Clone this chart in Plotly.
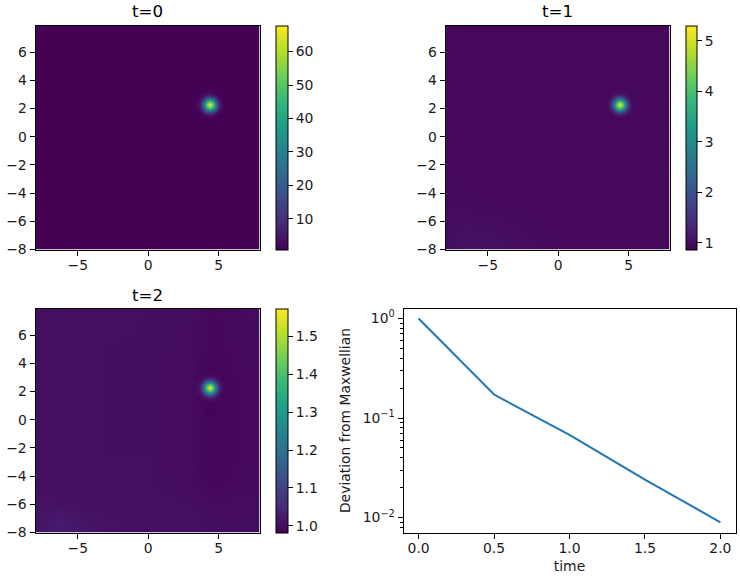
import plotly.graph_objects as go

W, H = 740, 580

# Background grids
bg_x = [-8.5, -6.5, -5, -3, 0, 3, 4.4, 6, 8.5]
bg_y = [-8.5, -7.2, -6, -4.5, -2, 1, 2.3, 5, 8.5]

bg_t0 = [[1.0] * 9 for _ in bg_y]

bg_t1 = [
    [0.99, 1.05, 1.04, 1.00, 0.96, 0.95, 0.95, 0.95, 0.95],
    [1.00, 1.07, 1.05, 1.01, 0.96, 0.95, 0.95, 0.95, 0.95],
    [1.00, 1.02, 1.01, 0.99, 0.95, 0.95, 0.95, 0.95, 0.95],
    [0.99, 0.97, 0.96, 0.95, 0.95, 0.95, 0.95, 0.95, 0.95],
    [0.96, 0.95, 0.95, 0.95, 0.95, 0.95, 0.95, 0.95, 0.95],
    [0.95, 0.95, 0.95, 0.95, 0.95, 0.95, 0.95, 0.95, 0.95],
    [0.95, 0.95, 0.95, 0.95, 0.95, 0.95, 0.95, 0.95, 0.95],
    [0.95, 0.95, 0.95, 0.95, 0.95, 0.95, 0.95, 0.95, 0.95],
    [0.95, 0.95, 0.95, 0.95, 0.95, 0.95, 0.95, 0.95, 0.95],
]

bg_t2 = [
    [1.008, 1.022, 1.016, 1.008, 1.006, 1.006, 1.002, 1.002, 1.002],
    [1.012, 1.026, 1.018, 1.010, 1.006, 1.006, 1.002, 1.002, 1.002],
    [1.010, 1.010, 1.008, 1.006, 1.006, 1.003, 1.000, 1.000, 1.000],
    [1.008, 1.006, 1.004, 1.004, 1.004, 1.000, 0.990, 0.994, 0.998],
    [1.006, 1.004, 1.004, 1.003, 1.003, 0.999, 0.990, 0.992, 0.996],
    [1.006, 1.004, 1.004, 1.003, 1.003, 0.999, 0.989, 0.992, 0.996],
    [1.006, 1.004, 1.004, 1.003, 1.003, 0.999, 0.989, 0.992, 0.996],
    [1.006, 1.005, 1.004, 1.003, 1.003, 1.000, 0.990, 0.994, 0.998],
    [1.006, 1.005, 1.004, 1.004, 1.003, 1.003, 0.992, 0.998, 1.002],
]

# Peak grids, one row per y
peak_x = [3.48, 3.70, 3.92, 4.14, 4.36, 4.58, 4.80, 5.02, 5.24]
peak_y = [1.41, 1.63, 1.85, 2.07, 2.29, 2.51, 2.73, 2.95, 3.17]

peak_t0 = [
    [1.0, 1.0, 1.4, 2.0, 2.3, 2.0, 1.4, 1.0, 1.0],
    [1.0, 1.7, 3.8, 7.0, 8.6, 7.0, 3.8, 1.7, 1.0],
    [1.4, 3.8, 10.8, 21.2, 26.7, 21.2, 10.8, 3.8, 1.4],
    [2.0, 7.0, 21.2, 42.4, 53.6, 42.4, 21.2, 7.0, 2.0],
    [2.3, 8.6, 26.7, 53.6, 67.8, 53.6, 26.7, 8.6, 2.3],
    [2.0, 7.0, 21.2, 42.4, 53.6, 42.4, 21.2, 7.0, 2.0],
    [1.4, 3.8, 10.8, 21.2, 26.7, 21.2, 10.8, 3.8, 1.4],
    [1.0, 1.7, 3.8, 7.0, 8.6, 7.0, 3.8, 1.7, 1.0],
    [1.0, 1.0, 1.4, 2.0, 2.3, 2.0, 1.4, 1.0, 1.0],
]

peak_t1 = [
    [0.95, 0.95, 0.97, 1.00, 1.03, 1.00, 0.97, 0.95, 0.95],
    [0.95, 0.99, 1.13, 1.33, 1.44, 1.33, 1.13, 0.99, 0.95],
    [0.97, 1.13, 1.58, 2.26, 2.62, 2.26, 1.58, 1.13, 0.97],
    [1.00, 1.33, 2.26, 3.64, 4.37, 3.64, 2.26, 1.33, 1.00],
    [1.03, 1.44, 2.62, 4.37, 5.30, 4.37, 2.62, 1.44, 1.03],
    [1.00, 1.33, 2.26, 3.64, 4.37, 3.64, 2.26, 1.33, 1.00],
    [0.97, 1.13, 1.58, 2.26, 2.62, 2.26, 1.58, 1.13, 0.97],
    [0.95, 0.99, 1.13, 1.33, 1.44, 1.33, 1.13, 0.99, 0.95],
    [0.95, 0.95, 0.97, 1.00, 1.03, 1.00, 0.97, 0.95, 0.95],
]

peak_t2 = [
    [0.990, 0.990, 0.995, 1.000, 1.003, 1.000, 0.995, 0.990, 0.990],
    [0.990, 0.998, 1.016, 1.044, 1.058, 1.044, 1.016, 0.998, 0.990],
    [0.995, 1.016, 1.077, 1.168, 1.215, 1.168, 1.077, 1.016, 0.995],
    [1.000, 1.044, 1.168, 1.353, 1.450, 1.353, 1.168, 1.044, 1.000],
    [1.003, 1.058, 1.215, 1.450, 1.574, 1.450, 1.215, 1.058, 1.003],
    [1.000, 1.044, 1.168, 1.353, 1.450, 1.353, 1.168, 1.044, 1.000],
    [0.995, 1.016, 1.077, 1.168, 1.215, 1.168, 1.077, 1.016, 0.995],
    [0.990, 0.998, 1.016, 1.044, 1.058, 1.044, 1.016, 0.998, 0.990],
    [0.990, 0.990, 0.995, 1.000, 1.003, 1.000, 0.995, 0.990, 0.990],
]

z_ranges = [(0.8, 67.8), (0.867, 5.30), (0.982, 1.574)]
cbar_ticks = [
    [10, 20, 30, 40, 50, 60],
    [1, 2, 3, 4, 5],
    [1.0, 1.1, 1.2, 1.3, 1.4, 1.5],
]
cbar_text = [
    ["10", "20", "30", "40", "50", "60"],
    ["1", "2", "3", "4", "5"],
    ["1.0", "1.1", "1.2", "1.3", "1.4", "1.5"],
]
panel_titles = ["t=0", "t=1", "t=2"]

# Deviation curve
time = [0.0, 0.5, 1.0, 1.5, 2.0]
deviation = [1.0, 0.172, 0.0677, 0.0241, 0.00897]

log_ticks = [1, 0.1, 0.01]
log_labels = ["10<sup>0</sup>", "10<sup>−1</sup>", "10<sup>−2</sup>"]
log_minor = [0.008, 0.009, 0.02, 0.03, 0.04, 0.05, 0.06, 0.07, 0.08, 0.09,
             0.2, 0.3, 0.4, 0.5, 0.6, 0.7, 0.8, 0.9]

FONT = "DejaVu Sans"
TICK_SIZE = 13.9
INK = "#000000"
TEXT = "#1a1a1a"

# Axes boxes in pixels: left, right, top, bottom
boxes = [
    (35.5, 259.5, 25.5, 249.5),
    (445.5, 669.5, 25.5, 249.5),
    (35.5, 259.5, 308.5, 532.5),
    (403.5, 735.5, 308.5, 532.5),
]
bars = [(275.5, 12), (685.5, 11), (275.5, 12)]


def xdom(b):
    return [b[0] / W, b[1] / W]


def ydom(b):
    return [1 - b[3] / H, 1 - b[2] / H]


fig = go.Figure()
bgs = [bg_t0, bg_t1, bg_t2]
peaks = [peak_t0, peak_t1, peak_t2]
for k in range(3):
    ax = "" if k == 0 else str(k + 1)
    zmin, zmax = z_ranges[k]
    b = boxes[k]
    fig.add_trace(go.Heatmap(
        x=bg_x, y=bg_y, z=bgs[k], zmin=zmin, zmax=zmax, zsmooth="best",
        colorscale="Viridis", xaxis="x" + ax, yaxis="y" + ax, hoverinfo="skip",
        colorbar=dict(
            x=bars[k][0] / W, xanchor="left", thickness=bars[k][1], thicknessmode="pixels",
            y=ydom(b)[0], yanchor="bottom", len=(b[3] - b[2]) / H, lenmode="fraction",
            outlinecolor=INK, outlinewidth=1, xpad=0, ypad=0,
            ticks="outside", ticklen=5, tickwidth=1, tickcolor=INK,
            tickmode="array", tickvals=cbar_ticks[k], ticktext=cbar_text[k],
            tickfont=dict(family=FONT, size=TICK_SIZE, color=TEXT),
        ),
    ))
    fig.add_trace(go.Heatmap(
        x=peak_x, y=peak_y, z=peaks[k], zmin=zmin, zmax=zmax, zsmooth="best",
        colorscale="Viridis", xaxis="x" + ax, yaxis="y" + ax, hoverinfo="skip",
        showscale=False,
    ))

# Second y axis over the log panel, carrying only the short log ticks
fig.add_trace(go.Scatter(
    x=time, y=deviation, mode="lines", xaxis="x4", yaxis="y5", opacity=0,
    hoverinfo="skip", showlegend=False,
))
fig.add_trace(go.Scatter(
    x=time, y=deviation, mode="lines", xaxis="x4", yaxis="y4",
    line=dict(color="#1f77b4", width=2), showlegend=False,
))

common = dict(
    automargin=False,
    showline=True, linecolor=INK, linewidth=1, mirror=True, showgrid=False,
    zeroline=False, ticks="outside", ticklen=5, tickwidth=1, tickcolor=INK,
    tickfont=dict(family=FONT, size=TICK_SIZE, color=TEXT),
)
layout = dict(
    width=W, height=H, margin=dict(l=0, r=0, t=0, b=0, pad=0, autoexpand=False),
    paper_bgcolor="white", plot_bgcolor="white", showlegend=False,
    font=dict(family=FONT, color=TEXT),
)
for k in range(3):
    ax = "" if k == 0 else str(k + 1)
    b = boxes[k]
    layout["xaxis" + ax] = dict(
        domain=xdom(b), range=[-8, 7.9], anchor="y" + ax, ticklabelstandoff=-2,
        tickmode="array", tickvals=[-5, 0, 5], ticktext=["−5", "0", "5"], **common)
    layout["yaxis" + ax] = dict(
        domain=ydom(b), range=[-8, 7.9], anchor="x" + ax,
        tickmode="array", tickvals=[-8, -6, -4, -2, 0, 2, 4, 6],
        ticktext=["−8", "−6", "−4", "−2", "0", "2", "4", "6"], **common)

b = boxes[3]
layout["xaxis4"] = dict(
    domain=xdom(b), range=[-0.1, 2.1], anchor="y4", ticklabelstandoff=-2,
    tickmode="array", tickvals=[0, 0.5, 1, 1.5, 2],
    ticktext=["0.0", "0.5", "1.0", "1.5", "2.0"],
    title=dict(text="time", font=dict(family=FONT, size=TICK_SIZE), standoff=6), **common)
layout["yaxis4"] = dict(
    domain=ydom(b), type="log", range=[-2.15, 0.1], anchor="x4",
    tickmode="array", tickvals=log_ticks, ticktext=log_labels,
    title=dict(text="Deviation from Maxwellian", font=dict(family=FONT, size=TICK_SIZE), standoff=8),
    **common)
layout["yaxis5"] = dict(
    domain=ydom(b), type="log", range=[-2.15, 0.1], anchor="x4", overlaying="y4",
    side="left", automargin=False, showgrid=False, zeroline=False, showline=False,
    tickmode="array", tickvals=log_minor, ticks="outside", ticklen=3, tickwidth=1,
    tickcolor=INK, showticklabels=False,
)

annotations = []
for k in range(3):
    b = boxes[k]
    annotations.append(dict(
        text=panel_titles[k], xref="paper", yref="paper",
        x=(b[0] + b[1]) / 2 / W, y=1 - (b[2] - 2) / H,
        xanchor="center", yanchor="bottom", showarrow=False,
        font=dict(family=FONT, size=16.7, color="#000000"),
    ))
layout["annotations"] = annotations

fig.update_layout(**layout)
fig.write_html("out.html", post_script="document.body.style.margin='0';",
               config={"displayModeBar": False})
